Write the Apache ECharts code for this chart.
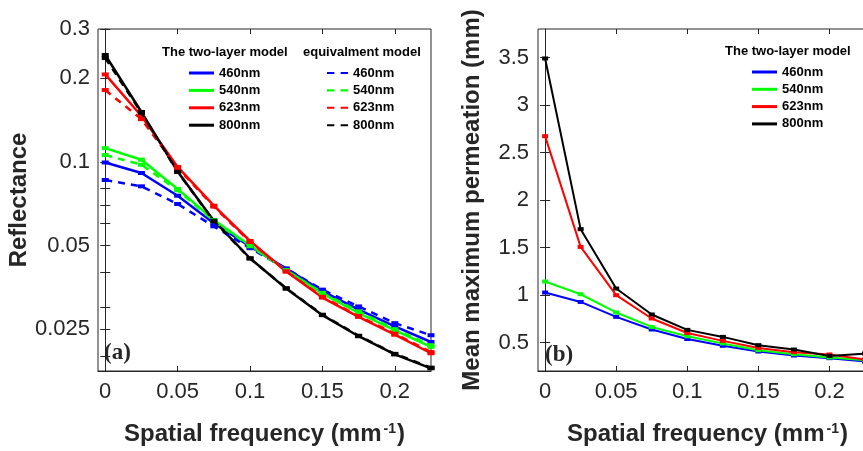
<!DOCTYPE html>
<html>
<head>
<meta charset="utf-8">
<script src="https://cdn.jsdelivr.net/npm/echarts@6/dist/echarts.min.js"></script>
<style>html,body{margin:0;padding:0;background:#fff}#c{width:863px;height:451px}</style>
</head>
<body>
<div id="c"></div>
<script>
// ---- data ----
const freq = [0, 0.025, 0.05, 0.075, 0.1, 0.125, 0.15, 0.175, 0.2, 0.225];
const wavelengths = ['460nm', '540nm', '623nm', '800nm'];
// (a) Reflectance, two-layer model
const refl2L_460 = [0.0994, 0.0911, 0.0755, 0.0601, 0.0496, 0.0413, 0.0343, 0.0294, 0.0256, 0.0225];
const refl2L_540 = [0.1119, 0.1017, 0.0798, 0.0618, 0.0500, 0.0408, 0.0336, 0.0286, 0.0248, 0.0216];
const refl2L_623 = [0.206, 0.146, 0.0958, 0.0695, 0.0519, 0.0403, 0.0325, 0.0277, 0.0239, 0.0205];
const refl2L_800 = [0.242, 0.151, 0.0922, 0.0614, 0.0450, 0.0350, 0.0281, 0.0236, 0.0203, 0.0181];
// (a) Reflectance, equivalment model
const reflEq_460 = [0.0860, 0.0816, 0.0705, 0.0586, 0.0489, 0.0413, 0.0347, 0.0302, 0.0263, 0.0238];
const reflEq_540 = [0.1057, 0.0976, 0.0790, 0.0612, 0.0497, 0.0408, 0.0338, 0.0290, 0.0250, 0.0219];
const reflEq_623 = [0.181, 0.1423, 0.0950, 0.0690, 0.0515, 0.0404, 0.0327, 0.0279, 0.0241, 0.0207];
const reflEq_800 = [0.236, 0.150, 0.0920, 0.0612, 0.0449, 0.0351, 0.0282, 0.0237, 0.0204, 0.0182];
// (b) Mean maximum permeation (mm), two-layer model
const perm_460 = [1.026, 0.927, 0.770, 0.637, 0.537, 0.465, 0.405, 0.363, 0.335, 0.300];
const perm_540 = [1.142, 1.008, 0.816, 0.664, 0.566, 0.490, 0.419, 0.377, 0.342, 0.314];
const perm_623 = [2.672, 1.506, 0.998, 0.753, 0.600, 0.517, 0.443, 0.398, 0.374, 0.321];
const perm_800 = [3.490, 1.693, 1.068, 0.795, 0.633, 0.559, 0.472, 0.426, 0.359, 0.384];
// ticks
const xTicks = [0, 0.05, 0.1, 0.15, 0.2];
const reflLabels = [0.025, 0.05, 0.1, 0.2, 0.3];
const reflTicks = [0.02, 0.025, 0.03, 0.04, 0.05, 0.06, 0.07, 0.08, 0.1, 0.2, 0.3];
const permTicks = [0.5, 1, 1.5, 2, 2.5, 3, 3.5];

const colors = ['#0000ff', '#00ff00', '#ff0000', '#000000'];
const AX = '#262626';
const FF = '"Liberation Sans", Arial, sans-serif';

const reflTwo = [refl2L_460, refl2L_540, refl2L_623, refl2L_800];
const reflEq = [reflEq_460, reflEq_540, reflEq_623, reflEq_800];
const perm = [perm_460, perm_540, perm_623, perm_800];
const pairs = arr => freq.map((x, i) => [x, arr[i]]);

const series = [];
wavelengths.forEach((w, k) => series.push({
  name: w + ' two-layer', type: 'line', xAxisIndex: 0, yAxisIndex: 0,
  data: pairs(reflTwo[k]), symbol: 'rect', symbolSize: [7, 4], showSymbol: true,
  color: colors[k], lineStyle: { width: 2.5, color: colors[k] }, itemStyle: { color: colors[k] },
  silent: true, animation: false, z: 2
}));
wavelengths.forEach((w, k) => series.push({
  name: w + ' equivalment', type: 'line', xAxisIndex: 0, yAxisIndex: 0,
  data: pairs(reflEq[k]), symbol: 'rect', symbolSize: [7, 4],
  color: colors[k], lineStyle: { width: 2.5, color: colors[k], type: [7, 6] }, itemStyle: { color: colors[k] },
  silent: true, animation: false, z: 3
}));
wavelengths.forEach((w, k) => series.push({
  name: w + ' perm', type: 'line', xAxisIndex: 2, yAxisIndex: 2,
  data: pairs(perm[k]), symbol: 'rect', symbolSize: [6, 4],
  color: colors[k], lineStyle: { width: 2, color: colors[k] }, itemStyle: { color: colors[k] },
  silent: true, animation: false, z: 2
}));

const tickStyle = { inside: true, length: 5, lineStyle: { color: AX, width: 1 } };
const labelStyle = { color: AX, fontSize: 22, fontFamily: FF };
const titleStyle = { color: AX, fontSize: 24, fontWeight: 'bold', fontFamily: FF };

function xMain(grid, padLeft) {
  return {
    type: 'value', gridIndex: grid, min: -0.005, max: 0.225, position: 'bottom',
    axisLine: { show: true, lineStyle: { color: AX, width: 1 } },
    axisTick: Object.assign({ customValues: xTicks }, tickStyle),
    axisLabel: Object.assign({ customValues: xTicks, margin: 10 }, labelStyle),
    splitLine: { show: false },
    name: '{t|Spatial frequency (mm}{s|-1}{t|)}', nameLocation: 'middle', nameGap: 51,
    nameTextStyle: { padding: [0, 0, 0, padLeft], rich: {
      t: titleStyle,
      s: { color: AX, fontSize: 14, fontWeight: 'bold', fontFamily: FF, verticalAlign: 'top', padding: [0, 1, 0, 2] }
    } }
  };
}
function xMirror(grid) {
  return {
    type: 'value', gridIndex: grid, min: -0.005, max: 0.225, position: 'top',
    axisLine: { show: false }, axisLabel: { show: false }, splitLine: { show: false },
    axisTick: Object.assign({ customValues: xTicks }, tickStyle)
  };
}

const option = {
  backgroundColor: '#ffffff',
  animation: false,
  grid: [
    { left: 98, top: 29, width: 333, height: 342, show: true, borderColor: AX, borderWidth: 1, backgroundColor: 'transparent', outerBoundsMode: 'none' },
    { left: 538, top: 29, width: 327, height: 342, show: true, borderColor: AX, borderWidth: 1, backgroundColor: 'transparent', outerBoundsMode: 'none' }
  ],
  xAxis: [xMain(0, 0), xMirror(0), xMain(1, 12), xMirror(1)],
  yAxis: [
    {
      type: 'log', gridIndex: 0, min: 0.0177, max: 0.3, position: 'left',
      axisLine: { show: true, lineStyle: { color: AX, width: 1 } },
      axisTick: Object.assign({ customValues: reflTicks }, tickStyle),
      axisLabel: Object.assign({ customValues: reflLabels, margin: 8 }, labelStyle),
      splitLine: { show: false }, minorTick: { show: false },
      name: 'Reflectance', nameLocation: 'middle', nameGap: 62, nameRotate: 90,
      nameTextStyle: titleStyle
    },
    {
      type: 'log', gridIndex: 0, min: 0.0177, max: 0.3, position: 'right',
      axisLine: { show: false }, axisLabel: { show: false }, splitLine: { show: false },
      axisTick: Object.assign({ customValues: reflTicks }, tickStyle)
    },
    {
      type: 'value', gridIndex: 1, min: 0.2, max: 3.8, position: 'left',
      axisLine: { show: true, lineStyle: { color: AX, width: 1 } },
      axisTick: Object.assign({ customValues: permTicks }, tickStyle),
      axisLabel: Object.assign({ customValues: permTicks, margin: 9 }, labelStyle),
      splitLine: { show: false },
      name: 'Mean maximum permeation (mm)', nameLocation: 'middle', nameGap: 54, nameRotate: 90,
      nameTextStyle: titleStyle
    },
    {
      type: 'value', gridIndex: 1, min: 0.2, max: 3.8, position: 'right',
      axisLine: { show: false }, axisLabel: { show: false }, splitLine: { show: false },
      axisTick: Object.assign({ customValues: permTicks }, tickStyle)
    }
  ],
  legend: [
    {
      data: wavelengths.map(w => w + ' two-layer'), orient: 'vertical', left: 189, top: 66,
      icon: 'rect', itemWidth: 25, itemHeight: 3, itemGap: 3.4, padding: 0, selectedMode: false,
      formatter: n => n.split(' ')[0],
      textStyle: { color: '#000', fontSize: 13, fontWeight: 'bold', fontFamily: FF, lineHeight: 14 }
    },
    {
      data: wavelengths.map(w => w + ' equivalment'), orient: 'vertical', left: 327, top: 66,
      icon: 'path://M0,0h7v2h-7z M13,0h7v2h-7z', itemWidth: 21, itemHeight: 3, itemGap: 3.4, padding: 0, selectedMode: false,
      formatter: n => n.split(' ')[0],
      textStyle: { color: '#000', fontSize: 13, fontWeight: 'bold', fontFamily: FF, lineHeight: 14 }
    },
    {
      data: wavelengths.map(w => w + ' perm'), orient: 'vertical', left: 752, top: 65,
      icon: 'rect', itemWidth: 25, itemHeight: 3, itemGap: 3.3, padding: 0, selectedMode: false,
      formatter: n => n.split(' ')[0],
      textStyle: { color: '#000', fontSize: 13, fontWeight: 'bold', fontFamily: FF, lineHeight: 14 }
    }
  ],
  graphic: [
    { type: 'text', left: 162, top: 46, style: { text: 'The two-layer model', font: 'bold 13px ' + FF, fill: '#000' } },
    { type: 'text', left: 303, top: 46, style: { text: 'equivalment model', font: 'bold 13px ' + FF, fill: '#000' } },
    { type: 'text', left: 725, top: 45, style: { text: 'The two-layer model', font: 'bold 13px ' + FF, fill: '#000' } },
    { type: 'text', left: 104, top: 342, style: { text: '(a)', font: 'bold 23px "Liberation Serif", "Times New Roman", serif', fill: AX } },
    { type: 'text', left: 545, top: 344, style: { text: '(b)', font: 'bold 23px "Liberation Serif", "Times New Roman", serif', fill: AX } }
  ],
  series: series
};

const chart = echarts.init(document.getElementById('c'), null, { renderer: 'canvas' });
chart.setOption(option);
</script>
</body>
</html>
